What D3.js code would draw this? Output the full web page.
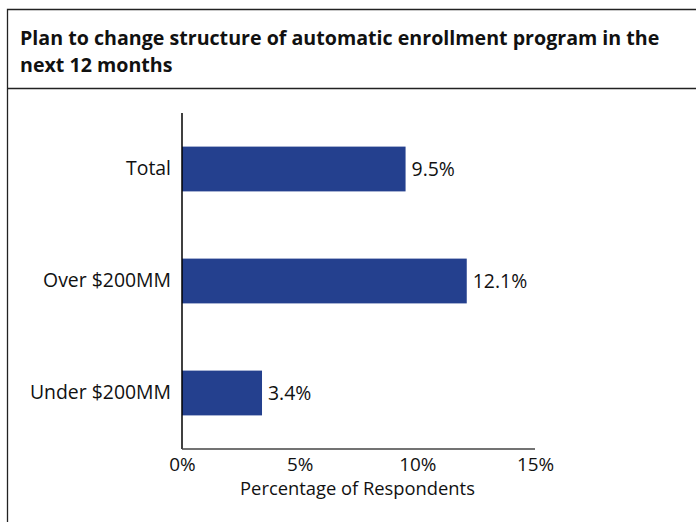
<!DOCTYPE html>
<html>
<head>
<meta charset="utf-8">
<script src="https://cdn.jsdelivr.net/npm/d3@7"></script>
<style>
  html, body { margin: 0; padding: 0; background: #fff; }
  svg { display: block; }
  text { font-family: "Open Sans", Lato, sans-serif; fill: #111; }
</style>
</head>
<body>
<svg id="chart" width="696" height="522"></svg>
<script>
// Survey results: share of respondents planning changes
const categories = ["Total", "Over $200MM", "Under $200MM"];
const values = [9.5, 12.1, 3.4];
const tickValues = [0, 5, 10, 15];
const titleLines = ["Plan to change structure of automatic enrollment program in the", "next 12 months"];
const axisTitle = "Percentage of Respondents";

const svg = d3.select("#chart");
const W = 696, H = 522;

// Sizes a text selection so that its first element spans the given width
function fitFont(sel, width) {
  const n = sel.node();
  const fs = parseFloat(sel.attr("font-size"));
  const w = n.getComputedTextLength();
  sel.attr("font-size", fs * width / w);
  return sel;
}

// Frame around the chart and the title separator
svg.append("path")
  .attr("d", `M${W + 2},9.5 H7.5 V${H + 2}`)
  .attr("fill", "none").attr("stroke", "#222").attr("stroke-width", 1.3);
svg.append("line")
  .attr("x1", 7.5).attr("x2", W + 2).attr("y1", 88.5).attr("y2", 88.5)
  .attr("stroke", "#222").attr("stroke-width", 1.3);

// Title
const title = svg.append("g").selectAll("text").data(titleLines).join("text")
  .attr("x", 20).attr("y", (d, i) => 45 + i * 27)
  .attr("font-size", 18).attr("font-weight", "bold")
  .text(d => d);
fitFont(title, 640);

// Plot area
const x0 = 182, x1 = 535, yTop = 113, yBot = 449;
const x = d3.scaleLinear().domain([0, 15]).range([x0, x1]);
const y = d3.scaleBand().domain(categories).range([yTop, yBot]).paddingInner(0.6).paddingOuter(0.3);

const g = svg.append("g");

// Bars
g.selectAll("rect.bar").data(categories).join("rect")
  .attr("class", "bar")
  .attr("x", x(0))
  .attr("y", d => y(d))
  .attr("width", (d, i) => x(values[i]) - x(0))
  .attr("height", y.bandwidth())
  .attr("fill", "#24408e");

// Category axis
const yAxis = d3.axisLeft(y).tickSize(0).tickPadding(11);
const yg = g.append("g").attr("transform", `translate(${x0},0)`).call(yAxis);
yg.select(".domain").attr("stroke", "#000").attr("stroke-width", 1.5)
  .attr("d", `M0,${yTop}V${yBot}`);
const catLabels = yg.selectAll("text").attr("font-size", 16).attr("fill", "#111")
  .attr("font-family", "'Open Sans', Lato, sans-serif");
fitFont(yg.selectAll("text").filter(d => d === "Over $200MM"), 128);
const labelSize = parseFloat(yg.selectAll("text").filter(d => d === "Over $200MM").attr("font-size"));
catLabels.attr("font-size", labelSize);

// Value labels
g.selectAll("text.val").data(categories).join("text")
  .attr("class", "val")
  .attr("x", (d, i) => x(values[i]) + 6)
  .attr("y", d => y(d) + y.bandwidth() / 2)
  .attr("dy", "0.36em")
  .attr("font-size", labelSize)
  .text((d, i) => values[i].toFixed(1) + "%");

// Value axis
const xAxis = d3.axisBottom(x).tickValues(tickValues).tickSize(0).tickPadding(9)
  .tickFormat(d => d + "%");
const xg = g.append("g").attr("transform", `translate(0,${yBot})`).call(xAxis);
xg.select(".domain").attr("stroke", "#444").attr("stroke-width", 1.5)
  .attr("d", `M${x0},0H${x1}`);
xg.selectAll("text").attr("font-size", labelSize - 0.5).attr("fill", "#111")
  .attr("font-family", "'Open Sans', Lato, sans-serif");

// Axis title
const at = svg.append("text")
  .attr("x", (x0 + x1) / 2 - 1).attr("y", 495)
  .attr("text-anchor", "middle").attr("font-size", 16)
  .text(axisTitle);
fitFont(at, 235);
</script>
</body>
</html>
